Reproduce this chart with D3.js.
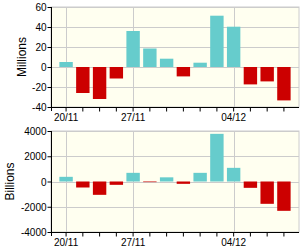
<!DOCTYPE html>
<html>
<head>
<meta charset="utf-8">
<script src="https://cdn.jsdelivr.net/npm/d3@7"></script>
<style>
  body { margin: 0; background: #fff; }
  svg text { font-family: Arial, "Liberation Sans", sans-serif; fill: #000; }
</style>
</head>
<body>
<svg id="chart" width="300" height="250"></svg>
<script>
// trading days shown on the x axis (only some get a label)
var dates = ['20/11','21/11','24/11','25/11','27/11','28/11','29/11','30/11','01/12','02/12','04/12','05/12','08/12','09/12'];
var shownDates = ['20/11','27/11','04/12'];

var volumeMillions = [5, -26, -32, -11.5, 36, 18.5, 8.3, -9.4, 4.3, 51.3, 40.3, -17.4, -14.4, -33.4];
var valueBillions = [370, -475, -1056, -264, 686, -50, 330, -185, 686, 3775, 1082, -502, -1768, -2323];

var ticksTop = [-40, -20, 0, 20, 40, 60];
var ticksBottom = [-4000, -2000, 0, 2000, 4000];

var svg = d3.select('#chart');

function drawPanel(cfg) {
  var x = d3.scaleBand()
    .domain(dates)
    .range([cfg.left, cfg.right])
    .paddingInner(0.2)
    .paddingOuter(0.5);

  var y = d3.scaleLinear()
    .domain(cfg.domain)
    .range([cfg.bottom, cfg.top]);

  var g = svg.append('g');

  // plot background
  g.append('rect')
    .attr('x', cfg.left)
    .attr('y', cfg.top)
    .attr('width', cfg.right - cfg.left)
    .attr('height', cfg.bottom - cfg.top)
    .attr('fill', '#fffff0')
    .attr('stroke', '#cccccc')
    .attr('stroke-width', 1);

  // horizontal grid
  g.selectAll('.hgrid')
    .data(cfg.ticks)
    .join('line')
    .attr('x1', cfg.left)
    .attr('x2', cfg.right)
    .attr('y1', d => Math.round(y(d)) + 0.5)
    .attr('y2', d => Math.round(y(d)) + 0.5)
    .attr('stroke', '#cccccc');

  // vertical grid at the labelled dates
  g.selectAll('.vgrid')
    .data(shownDates)
    .join('line')
    .attr('x1', d => Math.round(x(d) + x.bandwidth() / 2) + 0.5)
    .attr('x2', d => Math.round(x(d) + x.bandwidth() / 2) + 0.5)
    .attr('y1', cfg.top)
    .attr('y2', cfg.bottom)
    .attr('stroke', '#cccccc');

  // bars
  g.selectAll('.bar')
    .data(cfg.values)
    .join('rect')
    .attr('x', (d, i) => x(dates[i]))
    .attr('width', x.bandwidth())
    .attr('y', d => y(Math.max(0, d)))
    .attr('height', d => Math.abs(y(d) - y(0)))
    .attr('fill', d => d >= 0 ? '#66cccc' : '#cc0000');

  // y axis
  var yAxis = d3.axisLeft(y)
    .tickValues(cfg.ticks)
    .tickSize(4)
    .tickPadding(1)
    .tickFormat(d => String(d));
  var ya = g.append('g')
    .attr('transform', `translate(${cfg.left + 0.5},0)`)
    .call(yAxis);
  ya.select('.domain').attr('stroke', '#000').attr('d', `M0,${cfg.top}V${cfg.bottom + 4}`);
  ya.selectAll('text').attr('font-size', 10).attr('dy', '0.35em');
  ya.selectAll('line').attr('stroke', '#000');

  // x axis
  var xAxis = d3.axisBottom(x)
    .tickSize(4)
    .tickPadding(2)
    .tickFormat(d => shownDates.includes(d) ? d : '');
  var xa = g.append('g')
    .attr('transform', `translate(0,${cfg.bottom + 0.5})`)
    .call(xAxis);
  xa.select('.domain').attr('stroke', '#000').attr('d', `M${cfg.left},0H${cfg.right}`);
  xa.selectAll('text').attr('font-size', 10);
  xa.selectAll('line').attr('stroke', '#000');

  // axis title
  g.append('text')
    .attr('transform', `translate(${cfg.titleX},${(cfg.top + cfg.bottom) / 2}) rotate(-90)`)
    .attr('text-anchor', 'middle')
    .attr('dy', '0.35em')
    .attr('font-size', 12)
    .text(cfg.title);
}

drawPanel({
  values: volumeMillions,
  domain: [-40, 60],
  ticks: ticksTop,
  top: 7, bottom: 107, left: 51, right: 299,
  title: 'Millions', titleX: 22
});

drawPanel({
  values: valueBillions,
  domain: [-4000, 4000],
  ticks: ticksBottom,
  top: 131, bottom: 232, left: 51, right: 299,
  title: 'Billions', titleX: 10
});
</script>
</body>
</html>
